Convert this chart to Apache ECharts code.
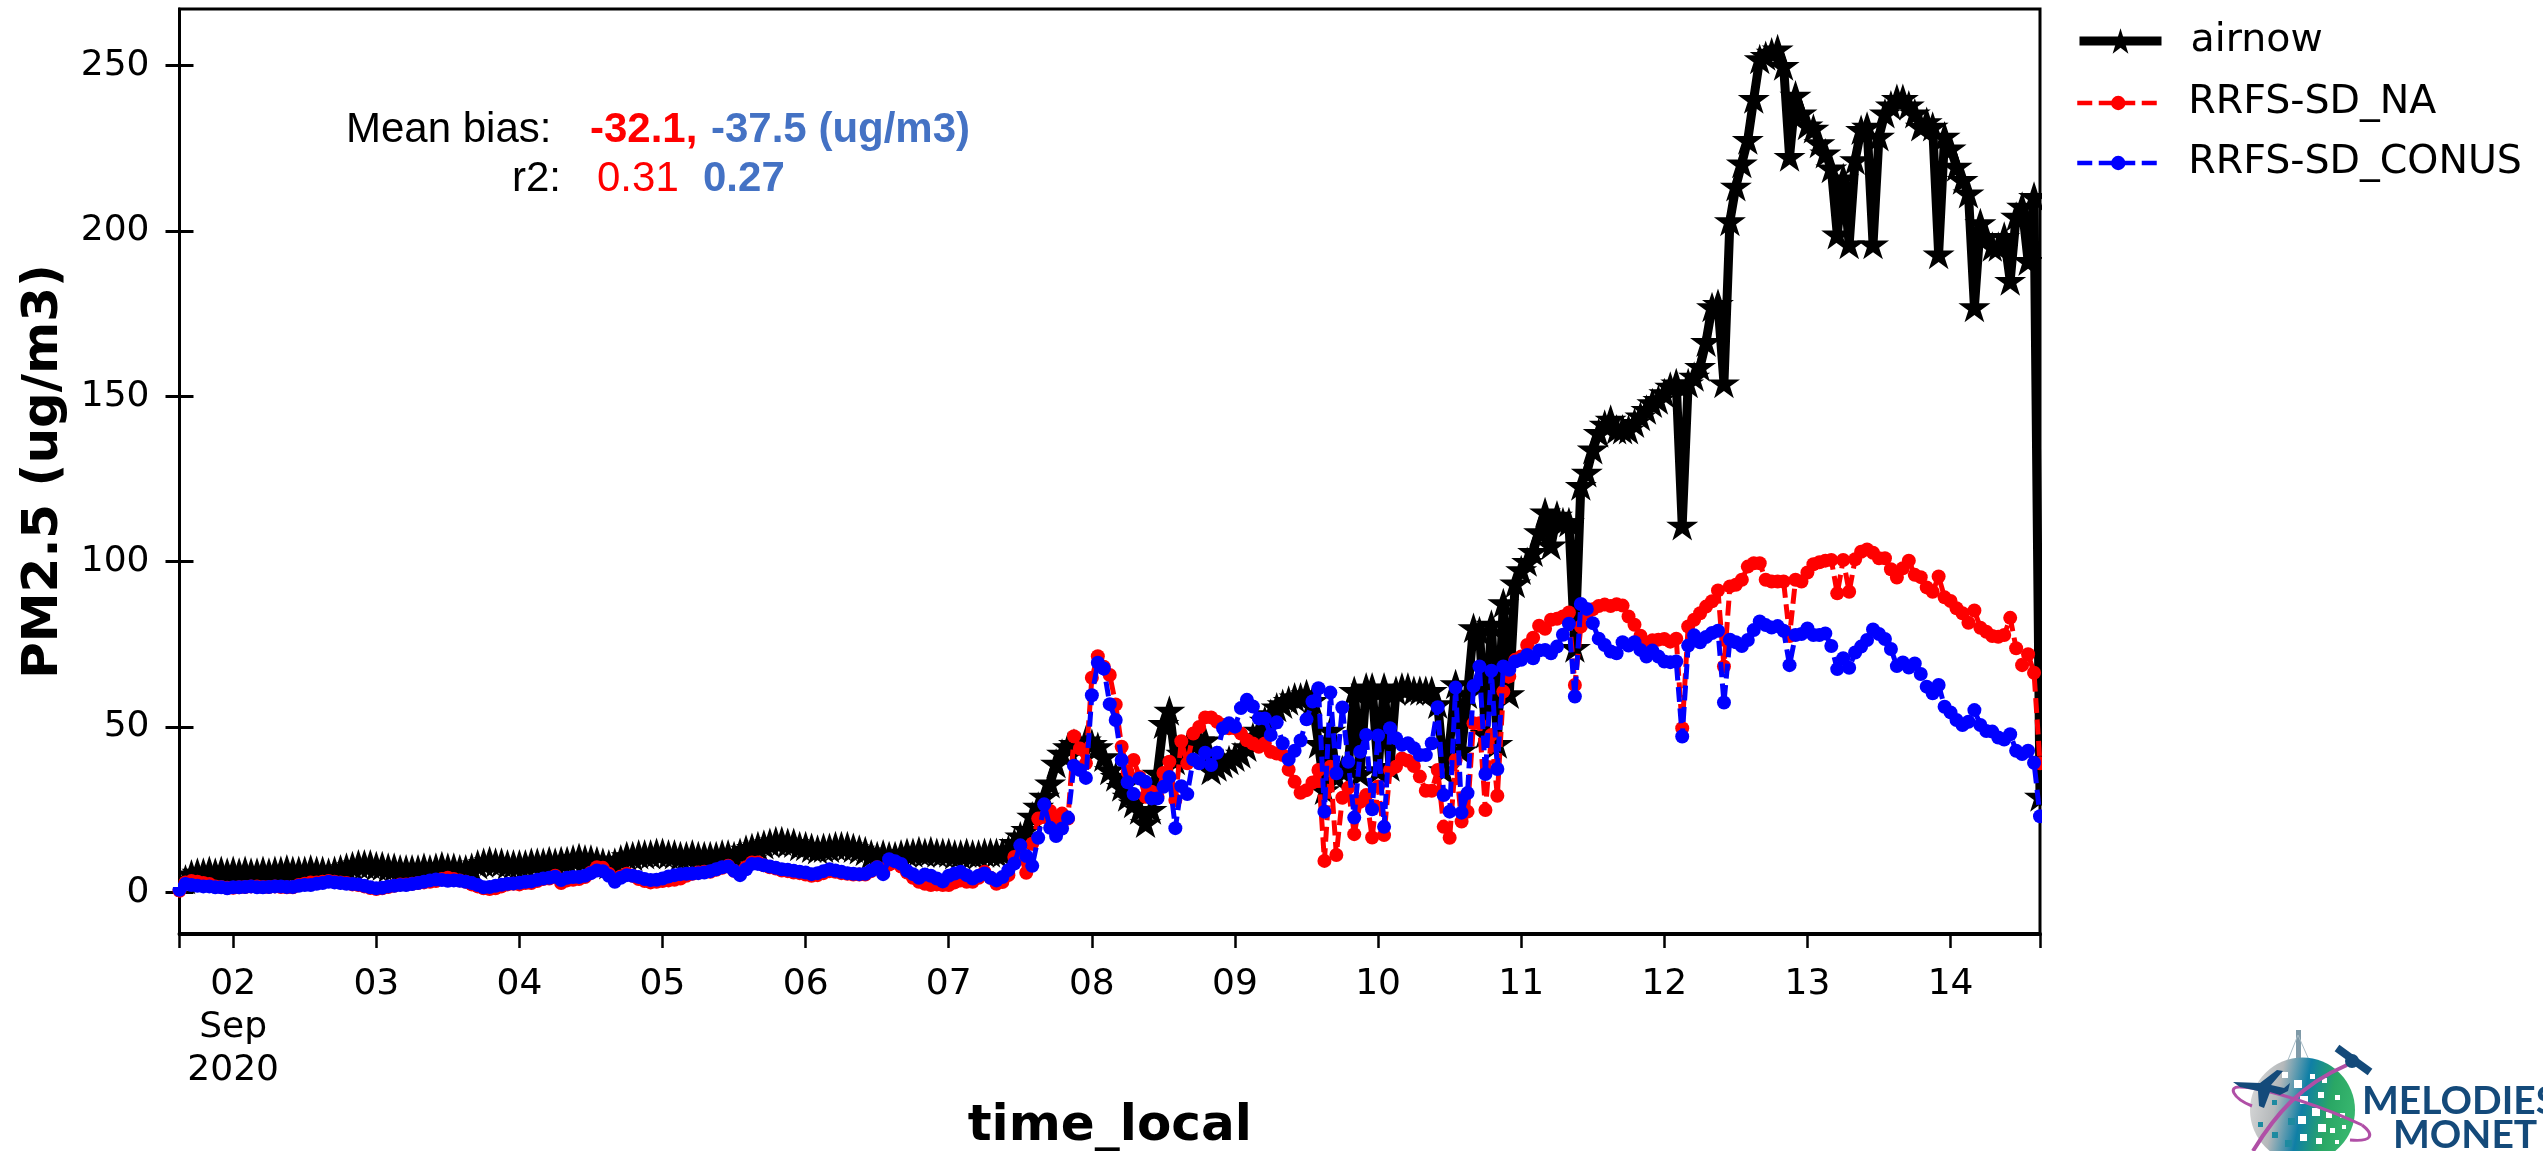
<!DOCTYPE html>
<html>
<head>
<meta charset="utf-8">
<style>html,body{margin:0;padding:0;background:#fff}#c{width:2543px;height:1151px}</style>
<script src="https://cdn.jsdelivr.net/npm/echarts@6/dist/echarts.min.js"></script>
</head>
<body>
<div id="c"></div>
<script>
const startTime = Date.UTC(2020, 8, 1, 15);
const hour = 3600000;
const tickDays = [2,3,4,5,6,7,8,9,10,11,12,13,14];
const yTicks = [0,50,100,150,200,250];

const airnow = [
1,4,5.5,6,6,6.5,6,6.5,6,6.5,
6,6.5,6,6,6.5,6,6.5,6.5,7,6.5,
6.5,6.5,7,6.5,6.5,6,6.5,7,7.5,8,
8.5,8.5,8.5,8,8,7.5,7.5,7,7,7,
7,7.5,7,7.5,8,7.5,7.5,7,7,7.5,
8.5,9,9.5,9,9,8.5,8.5,8.5,8.5,9,
9,9,9.5,9,9.5,9.5,10,10.5,10,10,
9.5,9,8.5,9,10,11,11,11.5,11.5,11.5,
12,12,11.5,11.5,11,11,11.5,11,11,11,
11,11.5,11.5,11,12,13,13.5,14,14.5,15,
15.5,15.5,15,15,14,14,13.5,13,13.5,13.5,
14,14,14,13.5,13,12.5,11.5,11,11.5,11,
11,11.5,12,12,12.5,12,12.5,12,12,12,
11.5,11.5,12,11.5,11.5,12,12,12,12,13,
15,17,19,23,26,29,33,39,42,44,
45,44,46,45,44,41,37,35,32,29,
27,25,21,25,36,51,55,40,42,44,
45,46,46,37,38,39,40,41,42,44,
47,49,52,54,56,57,58,59,59,60,
58,45,31,49,35,37,38,61,36,62,
62,37,62,38,61,62,62,61,61,61,
61,57,37,45,63,43,60,80,79,48,
81,45,87.5,60,93.5,97.5,100,103,109,115,
105,114,112,112,74,123,127,134,139,141.5,
143,140,140,140,142,144,146,148,149,151,
153,154,111,154,156,159,166.5,177,178,154,
203,213.5,220.5,227.6,240,252,253,254,255,250,
222.5,241,235.6,232,231,226.6,223.5,219,199,216,
196,221.5,230.6,231.6,196,228.6,235.6,238,240,240,
238,235.6,231.6,233,231.6,193,228.6,225,219.5,215.5,
211.4,177,202.4,198.3,195.3,195.3,198.3,185,204.4,207.4,
191,210.4,29];

const rrfsNA = [
0.5,3,3.4,3.2,2.8,2.5,1.8,1.6,1.4,1.4,
1.5,1.6,1.8,1.8,1.6,1.6,1.8,1.6,1.5,1.5,
2.2,2.6,3,3,3.2,3.4,3.2,3,2.8,2.4,
2.2,1.8,1.3,1,1.2,1.6,2,2.4,2.4,2.6,
2.8,3,3.2,3.4,4,4.4,4,3.6,3.2,2.4,
1.8,1.2,1,1.2,1.8,2.4,2.6,2.4,2.8,2.8,
3.4,4,4.2,5,2.8,3.6,3.8,4,4.6,6,
7.6,7.4,5.6,3.6,4.8,5.6,5,4,3.4,3,
3.2,3.4,3.6,3.8,4.2,5,5.6,6,6.2,6.2,
6.8,7.4,8,6.5,5.6,7.6,9,9,8.2,7.6,
7.2,6.6,6.4,6,5.8,5.4,5,5.2,5.8,6.4,
6.2,5.8,5.6,5.4,5.4,5.4,6.4,7.6,5.8,8.4,
9,7.8,6,4.4,3.2,2.6,2.2,2.4,2.2,2.2,
3,3.6,3.2,3.2,4.4,6.2,4.4,2.6,3.1,5.2,
10.7,11.5,5.9,14.7,22.3,22.8,24.6,21.8,23.8,22.3,
47.2,43.5,39,64.9,71.4,68.2,65.7,56.8,44,36.4,
40,34.9,28.9,30.4,28.9,36.1,39.5,27.9,45.7,39,
48,50,52.9,52.9,51.6,50.6,49.6,49.6,48,46,
45,44,45,42.5,42,41.5,37.1,33.4,30.1,30.9,
33.2,37,9.5,38,11.3,28.6,31.6,17.6,27.4,29.4,
16.6,32,17.3,37,38,40.5,39.8,38.2,35,30.7,
30.7,37,19.8,16.5,40,21.4,24.4,51.1,51.1,24.9,
47.6,29.2,60.7,65.3,70.3,71.3,74.8,77,80.6,79.7,
82.4,82.7,83.4,84.6,62.7,80.4,84.4,85.6,86.6,87,
86.6,87.1,86.7,83.4,80.9,77.6,75.5,76.2,76.4,76.6,
75.8,76.7,49.6,80.4,82.4,84.4,86.4,88,91.3,68.3,
92.5,93,94.5,98.5,99.5,99.5,94.5,94,94,94,
77.5,94.5,94,96.7,99.2,99.8,100.3,100.5,90.4,100.5,
90.9,100.7,103,103.7,102.7,101,101,97.7,95.2,98,
100.3,96,95.3,92.2,90.9,95.5,89.2,88.1,85.9,84.4,
81.5,85.2,80,78.8,77.5,77.3,77.8,83,73.8,68.7,
72,66.4,39];

const rrfsCONUS = [
0.8,2.5,2.2,2,1.8,1.8,1.5,1.5,1.2,1.5,
1.5,1.6,1.8,1.5,1.5,1.6,1.8,1.8,1.6,1.6,
2,2.2,2.2,2.6,2.8,3.2,3,2.8,2.6,2.5,
2.4,2,1.5,1.2,1.4,1.8,2,2.2,2.2,2.5,
2.8,3.2,3.6,3.9,3.7,3.5,3.6,3.5,3.2,2.8,
2.2,1.5,1.6,2,2.3,2.6,2.7,2.9,3.2,3.3,
3.8,4.2,4.4,4.7,3.7,4.4,4.6,4.6,5,5.8,
6.6,6.4,5,3.2,4.4,5.2,5,4.6,4,3.7,
3.8,4.2,4.8,5.2,5.5,5.6,5.7,5.8,6,6.4,
7,7.6,7.8,6.5,5.2,7,8.6,8.6,8.2,7.8,
7.4,7,6.8,6.5,6.2,6,5.5,5.8,6.4,7,
6.6,6.2,5.8,5.6,5.5,5.6,6.6,7.6,5.5,10,
9.4,8.6,6.5,5.5,4.4,5.4,5,4.2,3.3,5,
5.7,6.2,5.2,4.2,5,5.7,4.4,3.6,4.6,6.7,
8.7,14.2,11,8,16.5,26.6,19.5,17,19.3,22.5,
38.3,37,34.6,59.6,69.4,67.7,56.9,52.1,40,33.3,
29.7,34.4,33.4,28.4,28.4,31.9,34.9,19.4,32.1,29.7,
40.2,39,42.2,38.5,42.2,49.6,51.1,50.1,55.7,58.2,
56.2,52.6,52.6,47.6,51.4,45.1,40.2,42.8,45.9,52.3,
57.7,61.7,24.4,60.4,36,55.9,39.5,22.6,42.5,47.6,
25.1,47.4,19.8,49.6,46.6,44.6,45.1,43.6,41.5,41.5,
45.1,56,29.4,24.4,61.9,24.1,30,62.4,68.3,35.8,
67,37.3,68.3,67.3,69.8,70.3,71.8,70.8,73.1,73.3,
72.3,74.3,77.9,81.2,59.2,87.2,85.7,81.4,76.7,74.8,
72.8,72.3,75.6,74.6,75.6,73.3,71.3,73.1,71.3,69.8,
69.6,69.8,47.1,74.6,77.7,75.6,77.2,78.4,79.1,57.4,
76.4,75.6,74.5,76.3,79.3,81.9,80.8,80.1,80.5,79.1,
68.7,77.8,78.1,79.8,77.8,77.8,78.3,74.5,67.5,70.8,
67.9,72.5,74.3,76.3,79.5,78.1,76.6,73.6,68.4,69.5,
68,69.2,66,62.2,60.2,62.7,56.1,54.4,52.1,50.6,
51.6,55.1,50.6,48.8,48.6,46.8,46.2,47.8,42.8,41.8,
42.8,39.2,23];

const STAR = 'path://M50 0L61.2 34.5 97.6 34.5 68.2 55.9 79.4 90.5 50 69.1 20.6 90.5 31.8 55.9 2.4 34.5 38.8 34.5Z';
const toPairs = vals => vals.map((v, i) => [startTime + i * hour, v]);
const endTime = startTime + (airnow.length - 1) * hour;
const dayMs = tickDays.map(d => Date.UTC(2020, 8, d));
const SANS = 'DejaVu Sans';
const ARIAL = 'Liberation Sans';
const NAVY = '#144a7a';
const PINK = '#b04fa6';

function txt(x, y, text, fill, weight, size, family) {
  return {type:'text', x:x, y:y, silent:true, style:{text, fill, fontFamily:family||ARIAL, fontWeight:weight||'normal', fontSize:size||42}};
}
const logoWhite = [[2282,1072,6],[2294,1080,8],[2310,1074,5],[2322,1078,5],[2300,1096,8],[2318,1092,6],[2335,1095,5],[2312,1108,8],[2298,1116,8],[2326,1112,6],[2340,1113,5],[2318,1124,8],[2300,1134,7],[2330,1128,5],[2342,1125,4],[2316,1138,6],[2335,1140,4]];
const logoTeal = [[2272,1100,5],[2258,1122,5],[2272,1132,6],[2288,1118,7],[2285,1140,7]];
const square = (a, fill) => ({type:'rect', silent:true, shape:{x:a[0],y:a[1],width:a[2],height:a[2]}, style:{fill}});
const curve = (p, w) => ({type:'bezierCurve', silent:true, shape:{x1:p[0],y1:p[1],cpx1:p[2],cpy1:p[3],cpx2:p[4],cpy2:p[5],x2:p[6],y2:p[7]}, style:{stroke:PINK,lineWidth:w,fill:null}});
// white masks standing in for matplotlib's clipping of markers at the axes box
const mask = (x, y, w, h) => ({type:'rect', silent:true, z:10, shape:{x,y,width:w,height:h}, style:{fill:'#fff'}});

function richLegend(top, name, h, lw, dash){
  return {
    left: 2075, orient:'vertical', itemWidth: 82, padding: 0, selectedMode:false,
    top, data:[name], itemHeight:h,
    lineStyle:{width:lw, type:dash},
    formatter: n => '{t|' + n + '}',
    textStyle:{fontFamily:SANS, fontSize:39.5, color:'#000',
      rich:{t:{fontFamily:SANS, fontSize:39.5, color:'#000', padding:[0,0,0,24]}}}
  };
}

const option = {
  animation:false,
  backgroundColor:'#fff',
  grid:{left:179.5, right:503, top:9, bottom:217, show:true, outerBoundsMode:'none', containLabel:false, borderColor:'#000', borderWidth:3, backgroundColor:'transparent'},
  legend:[richLegend(21,'airnow',32,9,'solid'), richLegend(83,'RRFS-SD_NA',18,4.5,[15,6.5]), richLegend(143,'RRFS-SD_CONUS',18,4.5,[15,6.5])],
  xAxis:{
    type:'value', min:startTime, max:endTime,
    name:'time_local', nameLocation:'middle', nameGap:168,
    nameTextStyle:{fontFamily:SANS, fontWeight:'bold', fontSize:50, color:'#000'},
    axisLine:{show:true, onZero:false, lineStyle:{color:'#000', width:4}},
    axisTick:{show:true, length:14, customValues:[startTime].concat(dayMs,[endTime]), lineStyle:{color:'#000', width:2.5}},
    axisLabel:{
      show:true, margin:29, customValues:dayMs, color:'#000', fontFamily:SANS, fontSize:36, lineHeight:43,
      hideOverlap:false,
      formatter:v => {
        const d = new Date(v).getUTCDate();
        const s = (d < 10 ? '0' : '') + d;
        return d === tickDays[0] ? s + '\nSep\n2020' : s;
      }
    },
    splitLine:{show:false}
  },
  yAxis:[{
    type:'value', min:-12.6, max:267.1, position:'left',
    name:'PM2.5 (ug/m3)', nameLocation:'middle', nameGap:110, nameRotate:90,
    nameTextStyle:{fontFamily:SANS, fontWeight:'bold', fontSize:50, color:'#000'},
    axisLine:{show:true, lineStyle:{color:'#000', width:3}},
    axisTick:{show:true, length:14, customValues:yTicks, lineStyle:{color:'#000', width:3}},
    axisLabel:{show:true, margin:30, customValues:yTicks, color:'#000', fontFamily:SANS, fontSize:36, formatter:v => String(v)},
    splitLine:{show:false}
  },{
    type:'value', min:-12.6, max:267.1, position:'left', offset:0,
    axisLine:{show:false},
    axisTick:{show:true, inside:true, length:14, customValues:yTicks, lineStyle:{color:'#000', width:3}},
    axisLabel:{show:false},
    splitLine:{show:false}
  }],
  series:[
    {name:'airnow', type:'line', data:toPairs(airnow), z:3, showAllSymbol:true,
      symbol:STAR, symbolSize:(v, p) => (p.dataIndex === 0 ? 12 : 32), symbolKeepAspect:true,
      lineStyle:{color:'#000', width:9}, itemStyle:{color:'#000'}},
    {name:'RRFS-SD_NA', type:'line', data:toPairs(rrfsNA), z:4, showAllSymbol:true,
      symbol:'circle', symbolSize:14,
      lineStyle:{color:'#f00', width:5, type:[15,6.5]}, itemStyle:{color:'#f00'}},
    {name:'RRFS-SD_CONUS', type:'line', data:toPairs(rrfsCONUS), z:5, showAllSymbol:true,
      symbol:'circle', symbolSize:14,
      lineStyle:{color:'#00f', width:5, type:[15,6.5]}, itemStyle:{color:'#00f'}}
  ],
  graphic:[
    mask(2042,11,30,921),
    mask(150,850,28,37),
    mask(150,897,28,20),
    txt(346,109,'Mean bias:','#000'),
    txt(590,109,'-32.1,','#f00','bold'),
    txt(711,109,'-37.5 (ug/m3)','#4472c4','bold'),
    txt(512,158,'r2:','#000'),
    txt(597,158,'0.31','#f00'),
    txt(703,158,'0.27','#4472c4','bold'),
    {type:'rect', shape:{x:2296,y:1030,width:5,height:40}, style:{fill:'#7f9aa8'}, silent:true},
    {type:'line', shape:{x1:2298,y1:1035,x2:2288,y2:1060}, style:{stroke:'#a9bcc6',lineWidth:1}, silent:true},
    {type:'line', shape:{x1:2298,y1:1035,x2:2309,y2:1060}, style:{stroke:'#a9bcc6',lineWidth:1}, silent:true},
    {type:'circle', shape:{cx:2302.5,cy:1110,r:52.5}, silent:true, style:{
      fill:{type:'linear',x:0,y:0.1,x2:1,y2:0.3,colorStops:[{offset:0,color:'#dcdcdc'},{offset:0.3,color:'#b4b8ba'},{offset:0.55,color:'#0f7fa6'},{offset:0.8,color:'#2aa765'},{offset:1,color:'#36b56d'}]}}},
    ...logoWhite.map(a => square(a,'#fff')),
    ...logoTeal.map(a => square(a,'#1d8aa0')),
    curve([2252,1106,2232,1098,2228,1086,2240,1087],3),
    curve([2240,1087,2270,1088,2330,1110,2362,1125],3),
    curve([2362,1125,2375,1135,2372,1142,2350,1140],3),
    curve([2253,1151,2275,1115,2300,1085,2347,1065],4),
    {type:'polygon', silent:true, shape:{points:[[2233,1082],[2260,1083],[2277,1070],[2283,1071],[2271,1085],[2284,1088],[2290,1083],[2288,1091],[2280,1095],[2270,1092],[2264,1108],[2259,1106],[2258,1091],[2240,1087]]}, style:{fill:NAVY}},
    {type:'line', silent:true, shape:{x1:2337,y1:1048,x2:2370,y2:1072}, style:{stroke:NAVY,lineWidth:8}},
    {type:'circle', silent:true, shape:{cx:2352,cy:1061,r:7}, style:{fill:NAVY}},
    txt(2362,1082,'MELODIES',NAVY,'bold',39,'Lato'),
    txt(2393,1116,'MONET',NAVY,'bold',39,'Lato')
  ]
};
const chart = echarts.init(document.getElementById('c'), null, {renderer:'canvas', width:2543, height:1151});
chart.setOption(option);
</script>
</body>
</html>
